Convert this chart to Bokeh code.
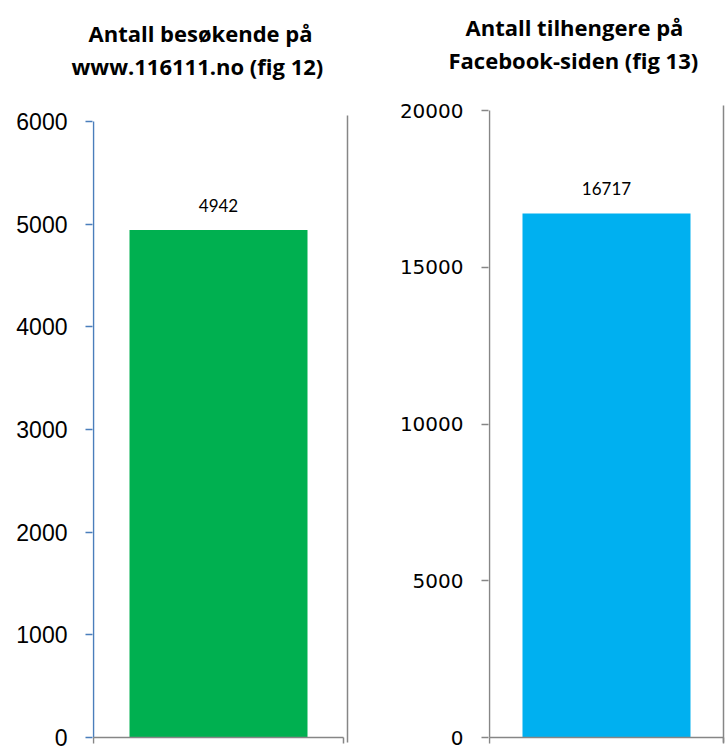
from bokeh.plotting import figure
from bokeh.models import Range1d, FixedTicker, ColumnDataSource, LabelSet, Title
from bokeh.layouts import row, column
from bokeh.embed import file_html
from bokeh.resources import INLINE
from bokeh.core.properties import value

# ---- data ----
left_title = ["Antall besøkende på", "www.116111.no (fig 12)"]
left_values = [4942]
left_ticks = [0, 1000, 2000, 3000, 4000, 5000, 6000]

right_title = ["Antall tilhengere på", "Facebook-siden (fig 13)"]
right_values = [16717]
right_ticks = [0, 5000, 10000, 15000, 20000]

bar_positions = [0]

GREEN = "#00B050"
BLUE = "#00B0F0"
AXIS_BLUE = "#4A7EBB"
GRAY = "#868686"

FIG_H = 746


def panel(title_lines, values, ticks, bar_color, axis_color, tick_font, tick_size,
          width, frame_left, axis_px, frame_right_gap, frame_top, ymax_px, y0_px,
          right_line_px, right_line_y, title_offsets, title_standoffs, bar_frac):
    ymax = ticks[-1]
    yscale = (y0_px - ymax_px) / ymax
    y_start = -(FIG_H - y0_px) / yscale
    y_end = ymax + (ymax_px - frame_top) / yscale
    axis_len = axis_px[1] - axis_px[0]
    frame_right = width - frame_right_gap
    x_start = -0.5 - (axis_px[0] - frame_left) / axis_len
    x_end = 0.5 + (frame_right - axis_px[1]) / axis_len

    def ypx(py):
        return (y0_px - py) / yscale

    p = figure(width=width, height=FIG_H, output_backend="svg", toolbar_location=None,
               x_range=Range1d(x_start, x_end), y_range=Range1d(y_start, y_end),
               min_border_left=frame_left, min_border_right=frame_right_gap,
               min_border_top=frame_top, min_border_bottom=0)
    p.outline_line_color = None
    p.grid.visible = False
    p.xaxis.visible = False

    ax = p.yaxis[0]
    ax.ticker = FixedTicker(ticks=ticks)
    ax.axis_line_color = None
    ax.major_tick_line_color = axis_color
    ax.major_tick_line_width = 1.5
    ax.major_tick_out = 7
    ax.major_tick_in = 0
    ax.minor_tick_line_color = None
    ax.major_label_standoff = 18
    ax.major_label_text_font = tick_font
    ax.major_label_text_font_size = tick_size
    ax.major_label_text_color = "#000000"

    src = ColumnDataSource(dict(x=bar_positions, top=values,
                                label=[str(v) for v in values]))
    p.vbar(x="x", top="top", bottom=0, width=bar_frac, source=src,
           fill_color=bar_color, line_color=None)

    # axis lines
    p.segment(x0=[-0.5], y0=[0], x1=[-0.5], y1=[ymax], line_color=axis_color, line_width=1.5)
    p.segment(x0=[-0.5], y0=[0], x1=[0.5], y1=[0], line_color=GRAY, line_width=1.5)
    tick_down = ypx(y0_px + 6)
    p.segment(x0=[-0.5, 0.5], y0=[0, 0], x1=[-0.5, 0.5], y1=[tick_down, tick_down],
              line_color=GRAY, line_width=1.5)
    right_x = 0.5 + (right_line_px - axis_px[1]) / axis_len
    p.segment(x0=[right_x], y0=[ypx(right_line_y[0])], x1=[right_x], y1=[ypx(right_line_y[1])],
              line_color=GRAY, line_width=1.5)

    p.add_layout(LabelSet(x="x", y="top", text="label", source=src, y_offset=25,
                          text_align="center", text_baseline="middle",
                          text_font=value("Lato"), text_font_size="17px",
                          text_color="#000000"))

    # title lines: the line nearest the plot is added first
    items = list(zip(title_lines, title_offsets, title_standoffs))
    for line, off, so in reversed(items):
        p.add_layout(Title(text=line, align="left", offset=off, standoff=so,
                           text_font="Open Sans", text_font_style="bold",
                           text_font_size="22px", text_color="#000000"), "above")
    return p


p1 = panel(left_title, left_values, left_ticks, GREEN, AXIS_BLUE, "Liberation Sans", "23px",
           width=362, frame_left=92, axis_px=(93, 343), frame_right_gap=12,
           frame_top=81, ymax_px=121, y0_px=737, right_line_px=347,
           right_line_y=(115, 742), title_offsets=(-4, -21), title_standoffs=(0, 2),
           bar_frac=0.712)

p2 = panel(right_title, right_values, right_ticks, BLUE, GRAY, "DejaVu Sans", "20px",
           width=363, frame_left=126, axis_px=(127, 361), frame_right_gap=0,
           frame_top=75, ymax_px=110, y0_px=737, right_line_px=361,
           right_line_y=(105, 742), title_offsets=(-23, -40), title_standoffs=(0, 2),
           bar_frac=0.718)

layout = row(column(p1), column(p2), spacing=0)
open("out.html", "w").write(file_html(layout, INLINE))
